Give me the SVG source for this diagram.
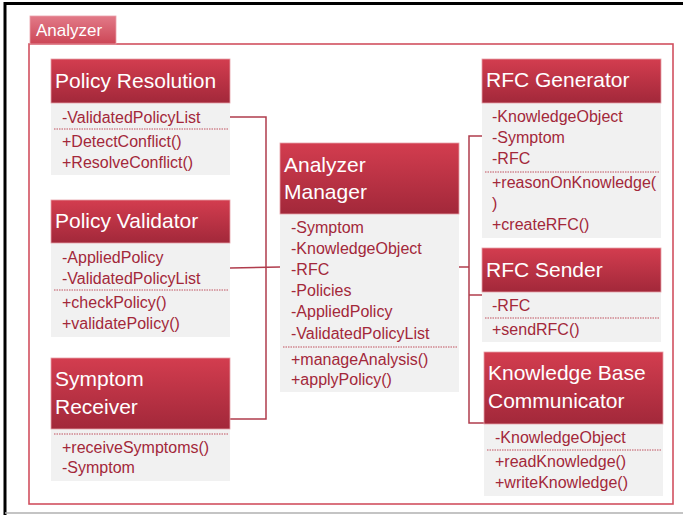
<svg xmlns="http://www.w3.org/2000/svg" width="683" height="515" viewBox="0 0 683 515">
<defs>
<linearGradient id="hg" x1="0" y1="0" x2="0" y2="1">
<stop offset="0" stop-color="#d33d4f"/>
<stop offset="1" stop-color="#a2283a"/>
</linearGradient>
<linearGradient id="tg" x1="0" y1="0" x2="0" y2="1">
<stop offset="0" stop-color="#e27a88"/>
<stop offset="1" stop-color="#cc4656"/>
</linearGradient>
<style>
.hd{fill:url(#hg);stroke:#e7a0a8;stroke-width:0.8}
.bd{fill:#f1f1f1}
.tt{font-family:"Liberation Sans",Arial,sans-serif;font-size:21px;fill:#ffffff}
.at{font-family:"Liberation Sans",Arial,sans-serif;font-size:16px;fill:#a3283a}
.sep{stroke:#c0505f;stroke-width:1;stroke-dasharray:1.5 1}
.cn{fill:none;stroke:#b03c4c;stroke-width:1.5}
</style>
</defs>
<rect x="0" y="0" width="683" height="515" fill="#ffffff"/>
<path d="M5 515 V3.5 H683" fill="none" stroke="#000000" stroke-width="3"/>
<line x1="5" y1="513" x2="683" y2="513" stroke="#b0b0b0" stroke-width="1.5"/>

<g id="analyzer-frame">
<rect x="29" y="44" width="644" height="460" fill="none" stroke="#d1505f" stroke-width="1.6"/>
<rect x="30" y="16" width="86" height="28" fill="url(#tg)" stroke="#eaa0aa" stroke-width="0.8"/>
<text x="36" y="36" font-family="Liberation Sans, Arial, sans-serif" font-size="17" fill="#ffffff">Analyzer</text>
</g>

<g id="connectors">
<polyline class="cn" points="230,117 266,117 266,419 230,419"/>
<line class="cn" x1="230" y1="268" x2="280" y2="267"/>
<polyline class="cn" points="482,136 469,136 469,423 484,423"/>
<line class="cn" x1="459" y1="267" x2="469" y2="267"/>
<line class="cn" x1="469" y1="295" x2="482" y2="295"/>
</g>

<g id="policy-resolution">
<rect class="bd" x="51" y="103" width="179" height="72"/>
<rect class="hd" x="51" y="59" width="179" height="44"/>
<text class="tt" x="55" y="88">Policy Resolution</text>
<text class="at" x="62" y="123">-ValidatedPolicyList</text>
<line class="sep" x1="54" y1="129" x2="228" y2="129"/>
<text class="at" x="62" y="147">+DetectConflict()</text>
<text class="at" x="62" y="168">+ResolveConflict()</text>
</g>

<g id="policy-validator">
<rect class="bd" x="51" y="243" width="179" height="94"/>
<rect class="hd" x="51" y="200" width="179" height="43"/>
<text class="tt" x="55" y="228">Policy Validator</text>
<text class="at" x="62" y="263">-AppliedPolicy</text>
<text class="at" x="62" y="284">-ValidatedPolicyList</text>
<line class="sep" x1="54" y1="290" x2="228" y2="290"/>
<text class="at" x="62" y="308">+checkPolicy()</text>
<text class="at" x="62" y="329">+validatePolicy()</text>
</g>

<g id="symptom-receiver">
<rect class="bd" x="51" y="429" width="179" height="52"/>
<rect class="hd" x="51" y="358" width="179" height="71"/>
<text class="tt" x="55" y="386">Symptom</text>
<text class="tt" x="55" y="414">Receiver</text>
<line class="sep" x1="54" y1="434" x2="228" y2="434"/>
<text class="at" x="62" y="453">+receiveSymptoms()</text>
<text class="at" x="62" y="473">-Symptom</text>
</g>

<g id="analyzer-manager">
<rect class="bd" x="280" y="214" width="179" height="178"/>
<rect class="hd" x="280" y="143" width="179" height="71"/>
<text class="tt" x="284" y="172">Analyzer</text>
<text class="tt" x="284" y="199">Manager</text>
<text class="at" x="291" y="233">-Symptom</text>
<text class="at" x="291" y="254">-KnowledgeObject</text>
<text class="at" x="291" y="275">-RFC</text>
<text class="at" x="291" y="296">-Policies</text>
<text class="at" x="291" y="317">-AppliedPolicy</text>
<text class="at" x="291" y="339">-ValidatedPolicyList</text>
<line class="sep" x1="283" y1="347" x2="457" y2="347"/>
<text class="at" x="291" y="365">+manageAnalysis()</text>
<text class="at" x="291" y="385">+applyPolicy()</text>
</g>

<g id="rfc-generator">
<rect class="bd" x="482" y="103" width="179" height="135"/>
<rect class="hd" x="482" y="59" width="179" height="44"/>
<text class="tt" x="486" y="87">RFC Generator</text>
<text class="at" x="492" y="122">-KnowledgeObject</text>
<text class="at" x="492" y="143">-Symptom</text>
<text class="at" x="492" y="164">-RFC</text>
<line class="sep" x1="485" y1="172" x2="659" y2="172"/>
<text class="at" x="492" y="188">+reasonOnKnowledge(</text>
<text class="at" x="492" y="209">)</text>
<text class="at" x="492" y="230">+createRFC()</text>
</g>

<g id="rfc-sender">
<rect class="bd" x="482" y="292" width="179" height="50"/>
<rect class="hd" x="482" y="248" width="179" height="44"/>
<text class="tt" x="486" y="277">RFC Sender</text>
<text class="at" x="492" y="311">-RFC</text>
<line class="sep" x1="485" y1="318" x2="659" y2="318"/>
<text class="at" x="492" y="335">+sendRFC()</text>
</g>

<g id="knowledge-base-communicator">
<rect class="bd" x="484" y="424" width="179" height="72"/>
<rect class="hd" x="484" y="352" width="179" height="72"/>
<text class="tt" x="488" y="380">Knowledge Base</text>
<text class="tt" x="488" y="408">Communicator</text>
<text class="at" x="495" y="443">-KnowledgeObject</text>
<line class="sep" x1="487" y1="450" x2="661" y2="450"/>
<text class="at" x="495" y="467">+readKnowledge()</text>
<text class="at" x="495" y="488">+writeKnowledge()</text>
</g>
</svg>
